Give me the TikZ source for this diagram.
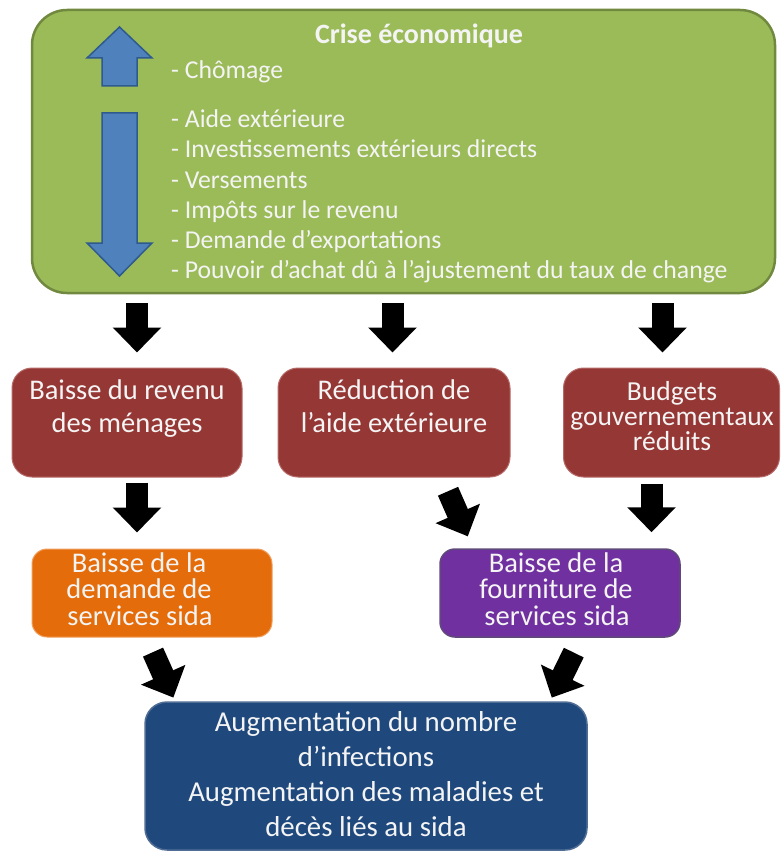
\documentclass[tikz,border=0pt]{standalone}
\usepackage{fontspec}
\setmainfont{Carlito}
\usetikzlibrary{arrows.meta,calc}
\definecolor{gfill}{HTML}{9BBB59}
\definecolor{gdraw}{HTML}{71893F}
\definecolor{rfill}{HTML}{953735}
\definecolor{rdraw}{HTML}{B56A68}
\definecolor{ofill}{HTML}{E46C0A}
\definecolor{odraw}{HTML}{F0A060}
\definecolor{pfill}{HTML}{7030A0}
\definecolor{pdraw}{HTML}{5F497A}
\definecolor{bfill}{HTML}{1F497D}
\definecolor{bdraw}{HTML}{4F6D95}
\definecolor{afill}{HTML}{4F81BD}
\definecolor{adraw}{HTML}{2F5A8E}
\definecolor{txt}{HTML}{F4F4F4}
\begin{document}
\begin{tikzpicture}[x=1pt,y=-1pt,
  box/.style={rectangle, inner sep=0pt},
  greenbox/.style={box, fill=gfill, draw=gdraw, line width=2.5pt, rounded corners=35pt},
  redbox/.style={box, fill=rfill, draw=rdraw, line width=1pt, rounded corners=20pt, minimum height=109pt},
  orbox/.style={box, fill=ofill, draw=odraw, line width=1pt, rounded corners=15pt, minimum width=240pt, minimum height=88pt},
  pubox/.style={box, fill=pfill, draw=pdraw, line width=1.5pt, rounded corners=15pt, minimum width=240pt, minimum height=88pt},
  blbox/.style={box, fill=bfill, draw=bdraw, line width=1.5pt, rounded corners=22pt},
  bluearr/.style={fill=afill, draw=adraw, line width=1.5pt, line join=miter},
  gtxt/.style={text=txt, inner sep=0pt, font=\fontsize{25.7}{30}\selectfont},
  ttxt/.style={text=txt, inner sep=0pt, font=\fontsize{28}{30}\selectfont\bfseries},
  rtxt/.style={text=txt, inner sep=0pt, anchor=base, font=\fontsize{28.5}{32}\selectfont},
  r3txt/.style={text=txt, inner sep=0pt, anchor=base, font=\fontsize{27.5}{25}\selectfont},
  optxt/.style={text=txt, inner sep=0pt, anchor=base, font=\fontsize{28.5}{26}\selectfont},
  bltxt/.style={text=txt, inner sep=0pt, anchor=base, font=\fontsize{28.8}{35}\selectfont},
  blk/.style={draw=black, line width=22pt, -{Triangle[length=25pt,width=47pt]}}
]
\useasboundingbox (0,0) rectangle (781,853);

% boxes
\node[greenbox, minimum width=743pt, minimum height=283pt] (g) at (403.5,151.5) {};
\node[redbox, minimum width=230pt] (b1) at (127,422.5) {};
\node[redbox, minimum width=232pt] (b2) at (394,422.5) {};
\node[redbox, minimum width=216pt] (b3) at (671.5,422.5) {};
\node[orbox] (o) at (152,593) {};
\node[pubox] (p) at (560,593) {};
\node[blbox, minimum width=442pt, minimum height=148pt] (bot) at (366,776) {};

% blue arrows
\draw[bluearr] (102,86) -- (102,58) -- (87,58) -- (119.5,27) -- (152,58) -- (137,58) -- (137,86) -- cycle;
\draw[bluearr] (102,113) -- (137,113) -- (137,243) -- (152,243) -- (119.5,276) -- (87,243) -- (102,243) -- cycle;

% green text
\node[ttxt, anchor=base] (title) at (419,44) {Crise économique};
\node[gtxt, anchor=base west] (l0) at (171,79) {- Chômage};
\node[gtxt, anchor=base west] (l1) at (171,128) {- Aide extérieure};
\node[gtxt, anchor=base west] (l2) at (171,158) {- Investissements extérieurs directs};
\node[gtxt, anchor=base west] (l3) at (171,188) {- Versements};
\node[gtxt, anchor=base west] (l4) at (171,218) {- Impôts sur le revenu};
\node[gtxt, anchor=base west] (l5) at (171,248) {- Demande d’exportations};
\node[gtxt, anchor=base west] (l6) at (171,278) {- Pouvoir d’achat dû à l’ajustement du taux de change};

% red box texts
\node[rtxt] (t1a) at (127,399) {Baisse du revenu};
\node[rtxt] (t1b) at (127,432) {des ménages};
\node[rtxt] (t2a) at (394,399) {Réduction de};
\node[rtxt] (t2b) at (394,432) {l’aide extérieure};
\node[r3txt] (t3a) at (672,400) {Budgets};
\node[r3txt] (t3b) at (672,425) {gouvernementaux};
\node[r3txt] (t3c) at (672,450) {réduits};

% orange / purple texts
\node[optxt] (oa) at (139,572) {Baisse de la};
\node[optxt] (ob) at (139,598.5) {demande de};
\node[optxt] (oc) at (140,625) {services sida};
\node[optxt] (pa) at (556,572) {Baisse de la};
\node[optxt] (pb) at (556,598.5) {fourniture de};
\node[optxt] (pc) at (557,625) {services sida};

% bottom texts
\node[bltxt] (ba) at (366,731) {Augmentation du nombre};
\node[bltxt] (bb) at (366,766) {d’infections};
\node[bltxt] (bc) at (366,801) {Augmentation des maladies et};
\node[bltxt] (bd) at (366,836) {décès liés au sida};

% black arrows
\draw[blk, shorten <=9pt, shorten >=15pt] ([xshift=10pt]b1.north |- g.south) -- ([xshift=10pt]b1.north);
\draw[blk, shorten <=9pt, shorten >=15pt] ([xshift=-1.5pt]b2.north |- g.south) -- ([xshift=-1.5pt]b2.north);
\draw[blk, shorten <=9pt, shorten >=15pt] ([xshift=-9pt]b3.north |- g.south) -- ([xshift=-9pt]b3.north);
\draw[blk, shorten <=5pt, shorten >=16pt] ([xshift=10pt]b1.south) -- ([xshift=-15pt]o.north);
\draw[blk, shorten <=6pt, shorten >=16pt] ([xshift=-20pt]b3.south) -- ([xshift=-20pt]b3.south |- p.north);
\draw[blk, shorten <=15pt, shorten >=13pt] ([xshift=48pt]b2.south) -- ([xshift=-87pt]p.north);
\draw[blk, shorten <=16pt, shorten >=4pt] ([xshift=-5.5pt]o.south) -- ([xshift=-191pt]bot.north);
\draw[blk, shorten <=16.5pt, shorten >=4pt] ([xshift=21pt]p.south) -- ([xshift=184pt]bot.north);
\end{tikzpicture}
\end{document}
